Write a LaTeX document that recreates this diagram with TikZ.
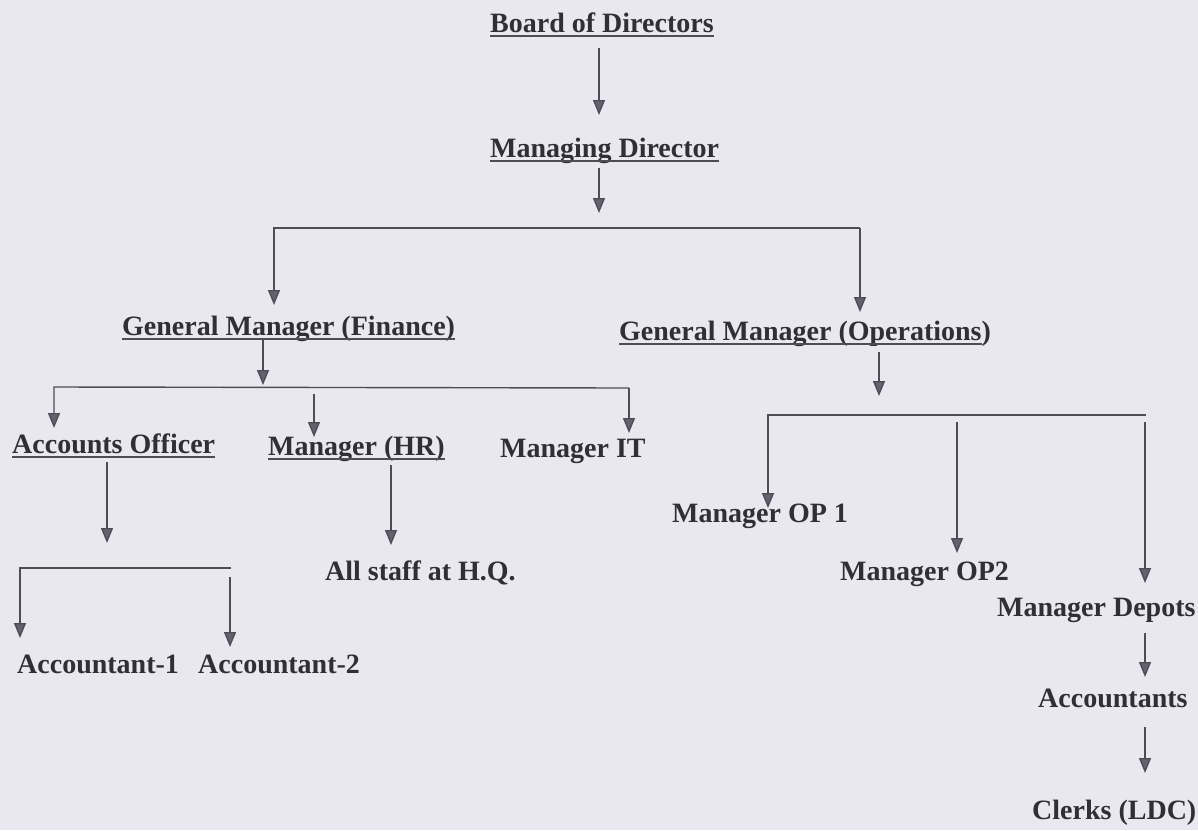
\documentclass[tikz,border=0pt]{standalone}
\usepackage{fontspec}
\setmainfont{Liberation Serif}
\usetikzlibrary{arrows.meta}
\definecolor{paper}{RGB}{233,231,240}
\definecolor{ink}{RGB}{48,46,54}
\definecolor{wire}{RGB}{78,76,84}
\definecolor{head}{RGB}{100,98,108}
\tikzset{
  lbl/.style={anchor=base west, inner sep=0pt, text=ink, font=\fontsize{28}{30}\selectfont\bfseries},
  wireline/.style={draw=wire, line width=1.4pt},
  arr/.style={wireline, -{Triangle[width=12pt,length=15pt,fill=head]}},
  uline/.style={draw=wire, line width=1.4pt}
}
\begin{document}
\begin{tikzpicture}[x=1pt,y=-1pt]
\fill[paper] (0,0) rectangle (1198,830);
\useasboundingbox (0,0) rectangle (1198,830);

% nodes
\node[lbl] (bod) at (490,32) {Board of Directors};
\node[lbl] (md) at (490,157) {Managing Director};
\node[lbl] (gmf) at (122,335) {General Manager (Finance)};
\node[lbl] (gmo) at (619,340) {General Manager (Operations)};
\node[lbl] (ao) at (12,453) {Accounts Officer};
\node[lbl] (hr) at (268,455) {Manager (HR)};
\node[lbl] (it) at (500,457) {Manager IT};
\node[lbl] (staff) at (325,580) {All staff at H.Q.};
\node[lbl] (acc1) at (17,673) {Accountant-1};
\node[lbl] (acc2) at (198,673) {Accountant-2};
\node[lbl] (op1) at (672,522) {Manager OP 1};
\node[lbl] (op2) at (840,580) {Manager OP2};
\node[lbl] (dep) at (997,616) {Manager Depots};
\node[lbl] (accs) at (1038,707) {Accountants};
\node[lbl] (clk) at (1032,819) {Clerks (LDC)};

% underlines
\foreach \n in {bod,md,gmf,ao,hr}
  \draw[uline] ([yshift=-4pt]\n.base west) -- ([yshift=-4pt]\n.base east);
\draw[uline] ([yshift=-4pt]gmo.base west) -- ([yshift=-4pt,xshift=-9pt]gmo.base east);

% junction coordinates
\coordinate (a1s) at (599,48);   \coordinate (a1e) at (599,115);
\coordinate (a2s) at (599,168);  \coordinate (a2e) at (599,213);
\coordinate (h1l) at (274,228);  \coordinate (h1r) at (860,228);
\coordinate (tgf) at (274,305);  \coordinate (tgo) at (860,312);
\coordinate (f1s) at (263,340);  \coordinate (f1e) at (263,385);
\coordinate (h2l) at (54,387);   \coordinate (h2r) at (629,388);
\coordinate (tao) at (54,428);   \coordinate (tit) at (629,433);
\coordinate (hrs) at (314,394);  \coordinate (hre) at (314,437);
\coordinate (aos) at (107,462);  \coordinate (aoe) at (107,543);
\coordinate (h3l) at (20,568);   \coordinate (h3r) at (231,568);
\coordinate (ta1) at (20,638);
\coordinate (a2bs) at (230,577); \coordinate (a2be) at (230,647);
\coordinate (sts) at (391,465);  \coordinate (ste) at (391,545);
\coordinate (o1s) at (879,352);  \coordinate (o1e) at (879,396);
\coordinate (h4l) at (768,415);  \coordinate (h4r) at (1146,415);
\coordinate (top1) at (768,508);
\coordinate (p2s) at (957,422);  \coordinate (p2e) at (957,553);
\coordinate (dps) at (1145,422); \coordinate (dpe) at (1145,583);
\coordinate (d1s) at (1145,633); \coordinate (d1e) at (1145,677);
\coordinate (d2s) at (1145,727); \coordinate (d2e) at (1145,773);

% connectors
\draw[arr] (a1s) -- (a1e);
\draw[arr] (a2s) -- (a2e);
\draw[arr] (h1r) -- (h1l) -- (tgf);
\draw[arr] (h1r) -- (tgo);
\draw[arr] (f1s) -- (f1e);
\draw[arr] (h2r) -- (h2l) -- (tao);
\draw[arr] (h2r) -- (tit);
\draw[arr] (hrs) -- (hre);
\draw[arr] (aos) -- (aoe);
\draw[arr] (h3r) -- (h3l) -- (ta1);
\draw[arr] (a2bs) -- (a2be);
\draw[arr] (sts) -- (ste);
\draw[arr] (o1s) -- (o1e);
\draw[arr] (h4r) -- (h4l) -- (top1);
\draw[arr] (p2s) -- (p2e);
\draw[arr] (dps) -- (dpe);
\draw[arr] (d1s) -- (d1e);
\draw[arr] (d2s) -- (d2e);
\end{tikzpicture}
\end{document}
